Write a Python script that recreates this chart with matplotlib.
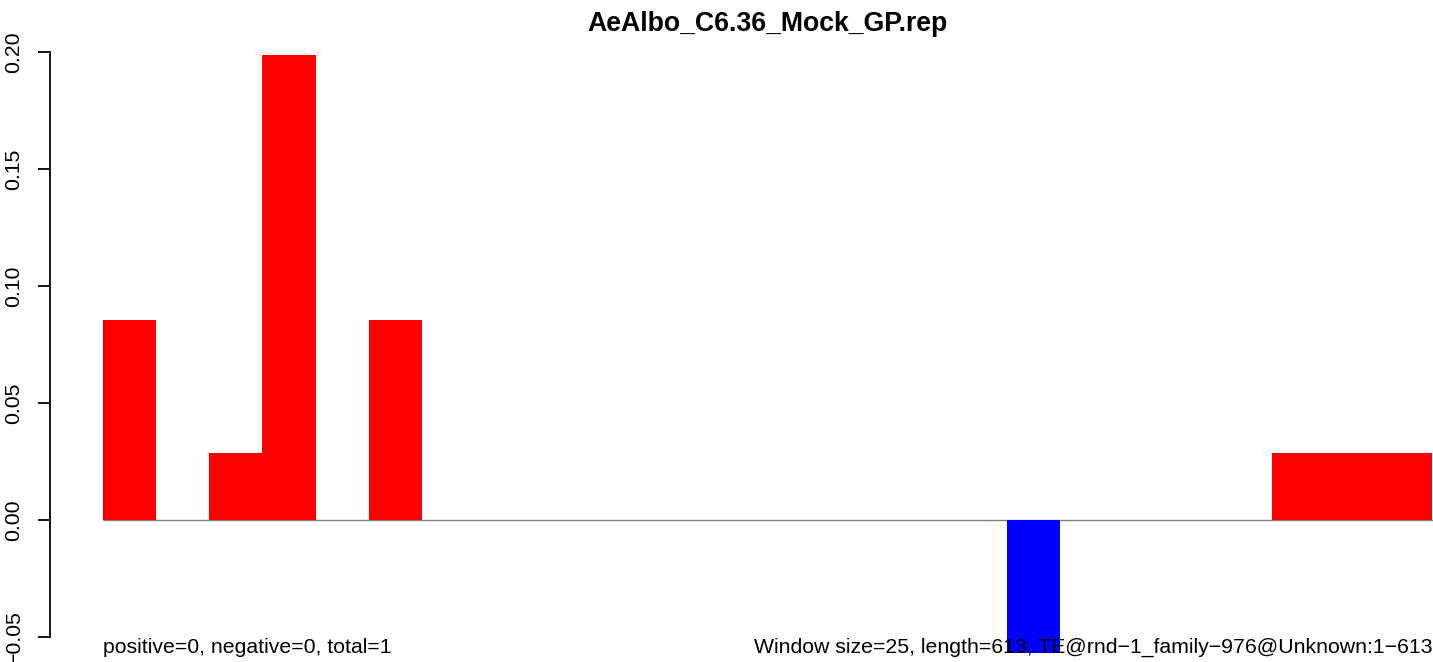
import matplotlib
matplotlib.use("Agg")
import matplotlib.pyplot as plt

plt.rcParams['font.family'] = ['Liberation Sans', 'DejaVu Sans']

# one value per 25bp window (613bp -> 25 windows)
windows = list(range(25))
values = [0.0855, 0, 0.0286, 0.1987, 0, 0.0855, 0, 0, 0, 0,
          0, 0, 0, 0, 0, 0, 0, -0.0568, 0, 0,
          0, 0, 0.0286, 0.0286, 0.0286]
yticks = [-0.05, 0.00, 0.05, 0.10, 0.15, 0.20]
ytick_labels = ["\u22120.05", "0.00", "0.05", "0.10", "0.15", "0.20"]

title = "AeAlbo_C6.36_Mock_GP.rep"
left_note = "positive=0, negative=0, total=1"
right_note = "Window size=25, length=613, TE@rnd\u22121_family\u2212976@Unknown:1\u2212613"

W, H = 1433, 662
fig = plt.figure(figsize=(W / 100, H / 100), dpi=100)

# axes: left spine at x=50px, y from -0.05 (637px) to 0.2 (52px)
ax = fig.add_axes([50 / W, 25 / H, (W - 50) / W, 585 / H])
px_per_bin = 53.15
ax.set_xlim(-53 / px_per_bin, (W - 103) / px_per_bin)
ax.set_ylim(-0.05, 0.2)

colors = ['red' if v >= 0 else 'blue' for v in values]
ax.hlines(0, 0, 25.1, color='#808080', lw=1, zorder=1)
ax.bar(windows, values, width=1, align='edge', color=colors,
       linewidth=0, zorder=3, clip_on=False)

for s in ['top', 'right', 'bottom']:
    ax.spines[s].set_visible(False)
ax.spines['left'].set_bounds(-0.05, 0.2)
ax.spines['left'].set_linewidth(1.3)
ax.set_xticks([])
ax.set_yticks(yticks)
ax.set_yticklabels(ytick_labels, rotation=90, va='center', fontsize=15.3)
ax.tick_params(axis='y', length=8.6, width=1.3, pad=10.5)

fig.text(767 / W, (H - 31) / H, title, ha='center', va='baseline',
         fontsize=19.2, fontweight='bold')
fig.text(103 / W, 9 / H, left_note, ha='left', va='baseline', fontsize=15.3, zorder=0)
fig.text(1432 / W, 9 / H, right_note, ha='right', va='baseline', fontsize=15.3, zorder=0)

fig.savefig("out.png", dpi=100)
